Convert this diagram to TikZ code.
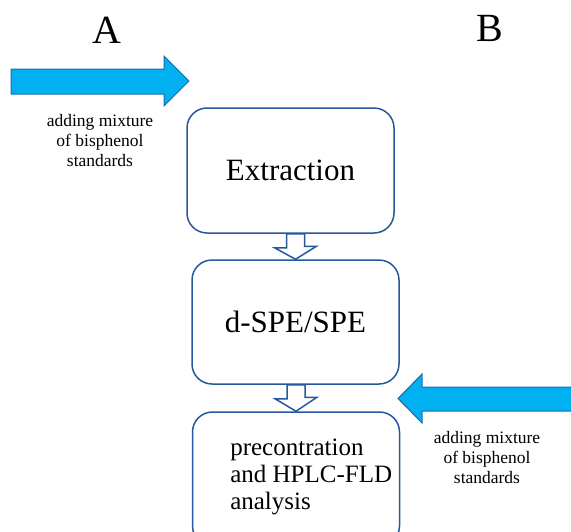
\documentclass[tikz,border=0pt]{standalone}
\usepackage{fontspec}
\setmainfont{Liberation Serif}
\usetikzlibrary{calc}
\definecolor{boxblue}{RGB}{38,88,158}
\definecolor{arrowcyan}{RGB}{0,176,240}
\definecolor{arrowedge}{RGB}{28,108,178}
\tikzset{
  stage/.style={draw=boxblue,line width=1.5pt,rounded corners=20pt,fill=white,minimum width=207pt},
  stagetext/.style={font=\fontsize{31}{34}\selectfont},
  note/.style={align=center,font=\fontsize{17.5}{20}\selectfont},
  letter/.style={font=\fontsize{40}{40}\selectfont},
  bigarrow/.style={fill=arrowcyan,draw=arrowedge,line width=1pt},
  hollow/.style={fill=white,draw=boxblue,line width=1.5pt}
}
\begin{document}
\begin{tikzpicture}[x=1pt,y=-1pt]
\clip (0,0) rectangle (571,531);
\node[stage,stagetext,minimum height=125pt] (extraction) at (290.5,170.5) {Extraction};
\node[stage,stagetext,minimum height=124pt] (dspe) at (295.5,322) {d-SPE/SPE};
\node[stage,minimum height=134pt] (hplc) at (296,479) {};
\node[anchor=west,align=left,font=\fontsize{25}{27}\selectfont] (hplctext) at ([xshift=35pt,yshift=2pt]hplc.west) {precontration\\and HPLC-FLD\\analysis};
\draw[hollow] ($(extraction.south -| dspe.north)+(-9,0)$) -- ++(0,14) -- ++(-12,0) -- (dspe.north) -- ++(21,-13) -- ++(-12,0) -- ($(extraction.south -| dspe.north)+(9,0)$) -- cycle;
\draw[hollow] ($(dspe.south -| hplc.north)+(-9,0)$) -- ++(0,14) -- ++(-12,0) -- (hplc.north) -- ++(21,-14) -- ++(-12,0) -- ($(dspe.south -| hplc.north)+(9,0)$) -- cycle;
\draw[bigarrow] (11,69) -- (164,69) -- (164,56) -- (189,81) -- (164,106) -- (164,94) -- (11,94) -- cycle;
\draw[bigarrow] (580,387) -- (422,387) -- (422,374) -- (398,398.5) -- (422,423) -- (422,411) -- (580,411) -- cycle;
\node[letter] (labelA) at (107,30) {A};
\node[letter] (labelB) at (490,28.5) {B};
\node[note] (noteA) at (100,141) {adding mixture\\of bisphenol\\standards};
\node[note] (noteB) at (487,458) {adding mixture\\of bisphenol\\standards};
\end{tikzpicture}
\end{document}
